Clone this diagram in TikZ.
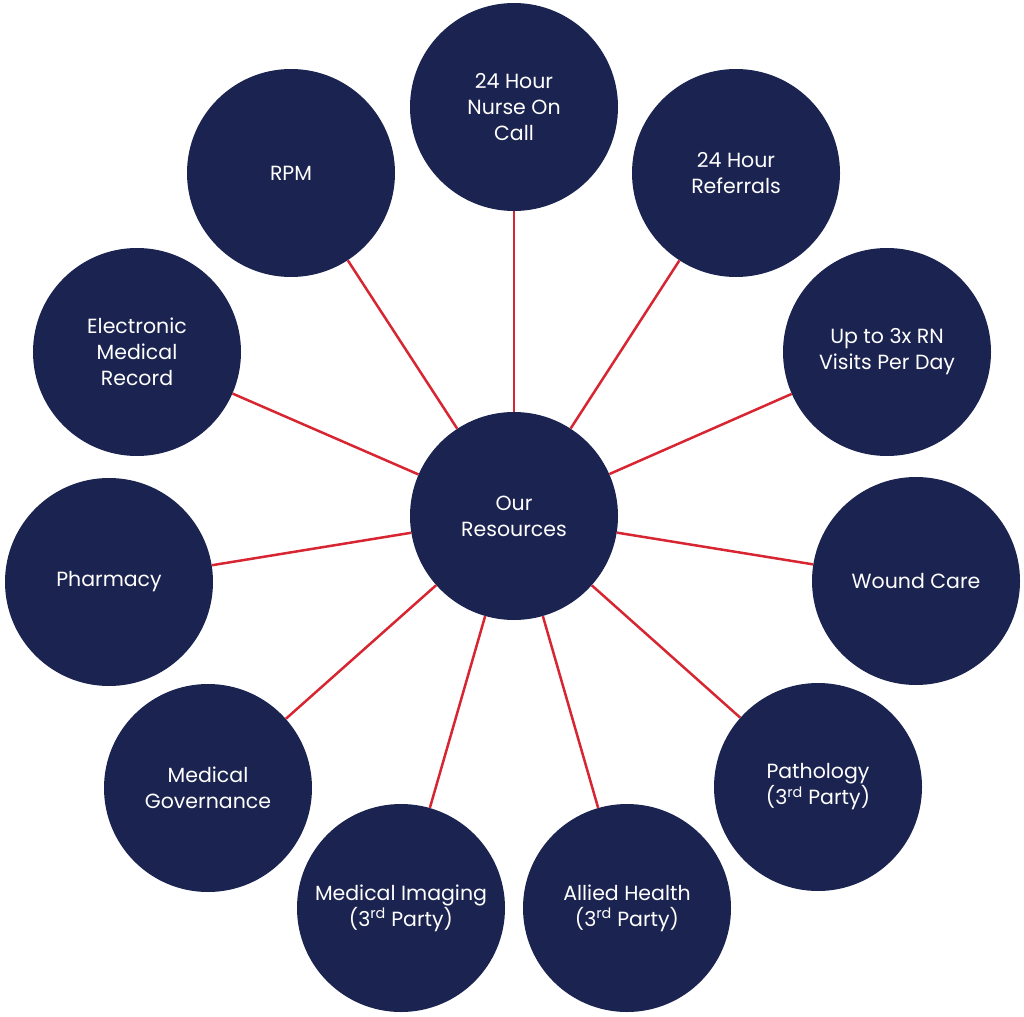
\documentclass[tikz,border=0pt]{standalone}
\usepackage{fontspec}
\setmainfont{Poppins}
\definecolor{navy}{RGB}{27,35,80}
\definecolor{spoke}{RGB}{215,38,50}

\begin{document}
\begin{tikzpicture}[x=1pt,y=-1pt]
\tikzset{res/.style = {circle, fill=navy, draw=none, minimum size=208pt, inner sep=0pt,
    text=white, align=center, font=\fontsize{20.5}{26}\selectfont}}
\tikzset{link/.style = {draw=spoke, line width=2.5pt}}
\useasboundingbox (0,0) rectangle (1024,1016);

    \node[res] (hub) at (514,516) {Our\\Resources};

    \node[res] (nurse) at (514,107) {24 Hour\\Nurse On\\Call};
    \node[res] (refer) at (736,173) {24 Hour\\Referrals};
    \node[res] (visits) at (887,352) {Up to 3x RN\\Visits Per Day};
    \node[res] (wound) at (916,581) {Wound Care};
    \node[res] (patho) at (818,787) {Pathology\\(3\textsuperscript{rd} Party)};
    \node[res] (allied) at (627,908) {Allied Health\\(3\textsuperscript{rd} Party)};
    \node[res] (imaging) at (401,908) {Medical Imaging\\(3\textsuperscript{rd} Party)};
    \node[res] (gov) at (208,788) {Medical\\Governance};
    \node[res] (pharm) at (109,582) {Pharmacy};
    \node[res] (emr) at (137,352) {Electronic\\Medical\\Record};
    \node[res] (rpm) at (291,173) {RPM};

\draw[link] (hub)--(nurse);
\draw[link] (hub)--(refer);
\draw[link] (hub)--(visits);
\draw[link] (hub)--(wound);
\draw[link] (hub)--(patho);
\draw[link] (hub)--(allied);
\draw[link] (hub)--(imaging);
\draw[link] (hub)--(gov);
\draw[link] (hub)--(pharm);
\draw[link] (hub)--(emr);
\draw[link] (hub)--(rpm);
\end{tikzpicture}
\end{document}
